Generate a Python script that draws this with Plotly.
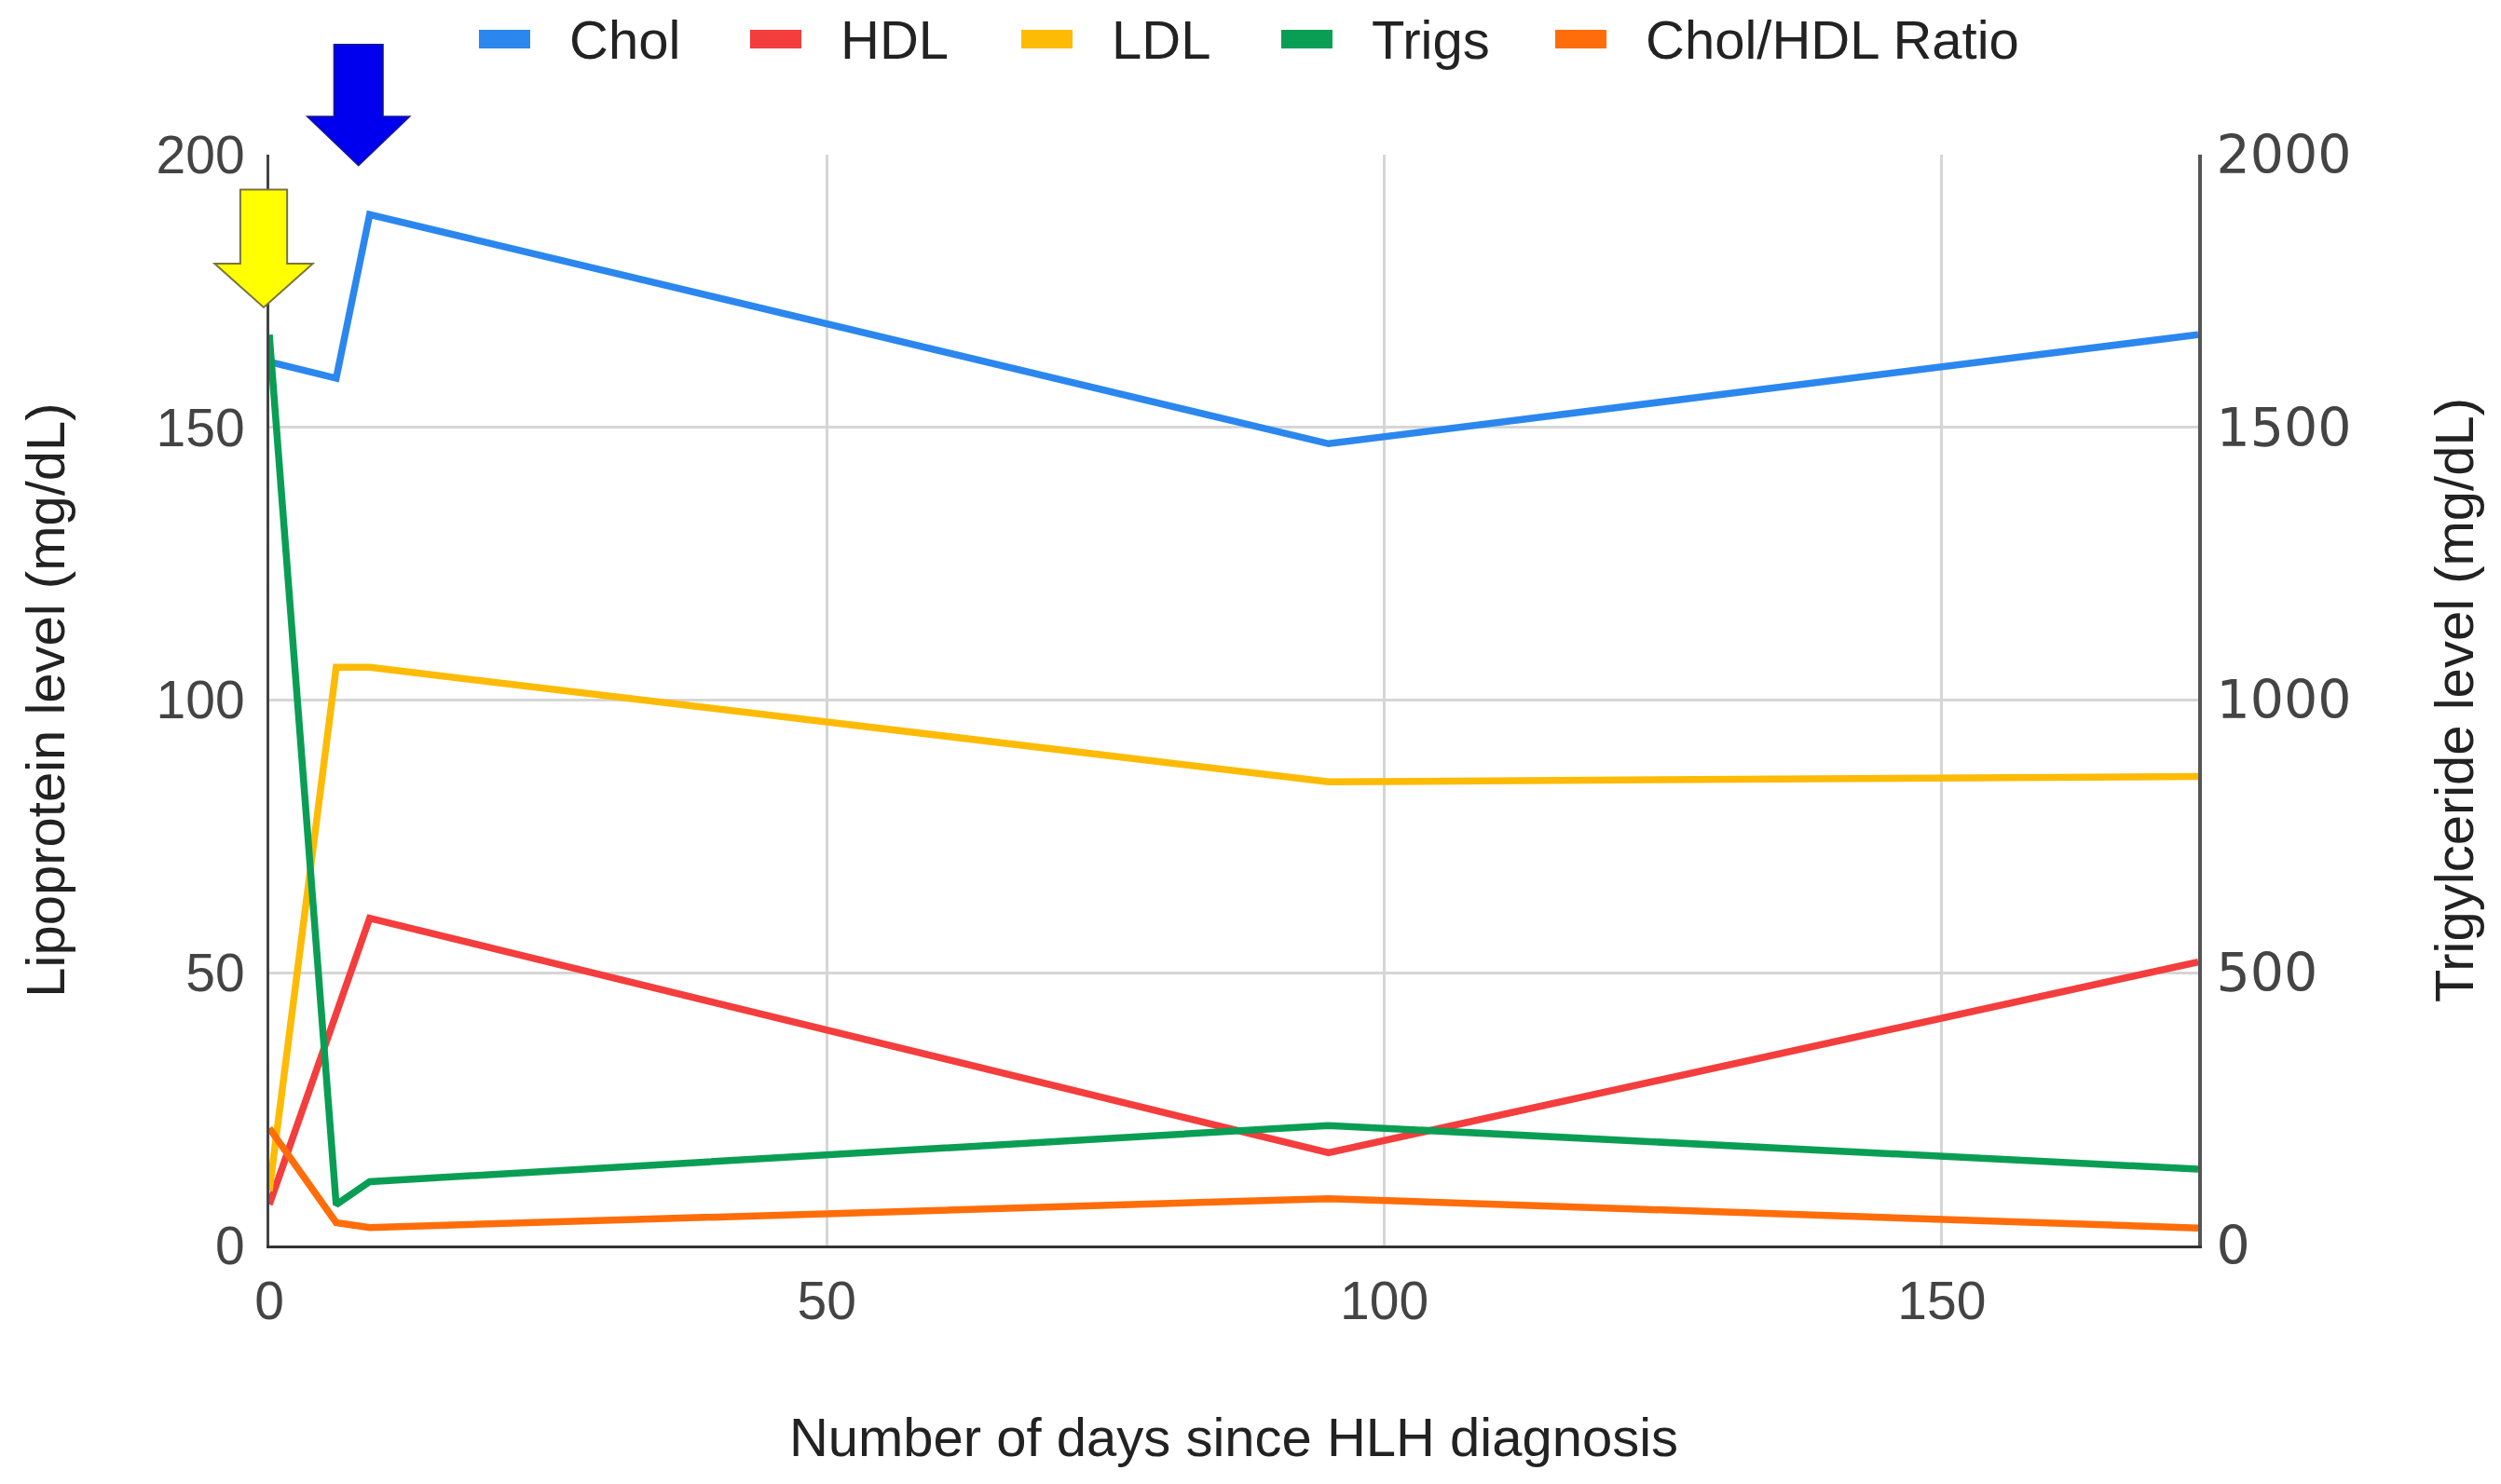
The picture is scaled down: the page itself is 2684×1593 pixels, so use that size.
import plotly.graph_objects as go

# ---- data ----
days = [0, 6, 9, 95, 173]
chol = [162, 159, 189, 147, 167]
hdl = [7.5, 42, 60, 17, 52]
ldl = [10, 106, 106, 85, 86]
trigs = [1670, 75, 117, 220, 140]
ratio = [21.5, 4.2, 3.3, 8.6, 3.2]

series_names = ["Chol", "HDL", "LDL", "Trigs", "Chol/HDL Ratio"]
series_colors = ["#2b87ee", "#f43d3d", "#fdbb06", "#0a9e55", "#ff6d0a"]

x_ticks = [0, 50, 100, 150]
y_ticks = [0, 50, 100, 150, 200]
y2_ticks = [0, 500, 1000, 1500, 2000]
x_range = [0, 173]

x_title = "Number of days since HLH diagnosis"
y_title = "Lipoprotein level (mg/dL)"
y2_title = "Trigylceride level (mg/dL)"

FONT = "Liberation Sans, Arial, sans-serif"
FONT_R = "DejaVu Sans, Verdana, sans-serif"
W, H = 2684, 1593
ML, MR, MT, MB = 289, 325, 166, 256
PW, PH = W - ML - MR, H - MT - MB

fig = go.Figure()
values = [chol, hdl, ldl, trigs, ratio]
for name, vals, col in zip(series_names, values, series_colors):
    fig.add_trace(go.Scatter(
        x=days, y=vals, name=name, mode="lines",
        line=dict(color=col, width=7.5),
        yaxis="y2" if name == "Trigs" else "y",
        showlegend=False,
    ))

# ---- manual legend (Google-style rectangular swatches) ----
legend_x = [514, 805, 1096, 1375, 1669]   # px, swatch left edges
legend_y = 42                             # px from top
shapes = []
annotations = []
for name, col, lx in zip(series_names, series_colors, legend_x):
    shapes.append(dict(type="rect", xref="paper", yref="paper",
                       x0=(lx - ML) / PW, x1=(lx + 55 - ML) / PW,
                       y0=(H - MB - legend_y + 10) / PH, y1=(H - MB - legend_y - 10) / PH,
                       fillcolor=col, line=dict(width=0)))
    annotations.append(dict(text=name, xref="paper", yref="paper",
                            x=(lx + 95 - ML) / PW, y=(H - MB - legend_y) / PH,
                            xanchor="left", yanchor="middle", showarrow=False,
                            font=dict(family=FONT, size=58, color="#222")))

# ---- block arrows (x given in days, converted to paper) ----
def px(d):
    return (d - x_range[0]) / (x_range[1] - x_range[0])

def arrow_path(cx, hb, hh, ytop, yhead, ytip):
    return (f"M {px(cx-hb)},{ytop} L {px(cx+hb)},{ytop} L {px(cx+hb)},{yhead} L {px(cx+hh)},{yhead} "
            f"L {px(cx)},{ytip} L {px(cx-hh)},{yhead} L {px(cx-hb)},{yhead} Z")

shapes.append(dict(type="path", xref="paper", yref="paper",
                   path=arrow_path(-0.5, 2.1, 4.4, 0.968, 0.9, 0.86),
                   fillcolor="#ffff00", line=dict(color="#7a7440", width=2), layer="above"))
shapes.append(dict(type="path", xref="paper", yref="paper",
                   path=arrow_path(8.0, 2.2, 4.6, 1.101, 1.035, 0.99),
                   fillcolor="#0000ee", line=dict(color="#1a1a8a", width=1.5), layer="above"))

tickfont = dict(family=FONT, size=57, color="#444")
tickfont_r = dict(family=FONT_R, size=57, color="#444")
titlefont = dict(family=FONT, size=58, color="#222")

fig.update_layout(
    width=W, height=H,
    margin=dict(l=ML, r=MR, t=MT, b=MB),
    paper_bgcolor="white", plot_bgcolor="white",
    showlegend=False,
    xaxis=dict(range=x_range, tickvals=x_ticks, ticktext=[str(v) for v in x_ticks],
               showgrid=True, gridcolor="#d6d6d6", gridwidth=2.5, zeroline=False,
               showline=True, linecolor="#333", linewidth=3, ticks="",
               tickfont=tickfont, ticklabelstandoff=8,
               title=dict(text=x_title, font=titlefont, standoff=95)),
    yaxis=dict(range=[0, 200], tickvals=y_ticks, ticktext=[str(v) for v in y_ticks],
               showgrid=True, gridcolor="#d6d6d6", gridwidth=2.5, zeroline=False,
               showline=True, linecolor="#444", linewidth=3, ticks="",
               tickfont=tickfont, ticklabelstandoff=12,
               title=dict(text=y_title, font=titlefont, standoff=80)),
    yaxis2=dict(range=[0, 2000], tickvals=y2_ticks, ticktext=[str(v) for v in y2_ticks],
                overlaying="y", side="right", showgrid=False, zeroline=False,
                showline=True, linecolor="#555", linewidth=4, ticks="",
                tickfont=tickfont_r, ticklabelstandoff=4,
                title=dict(text=y2_title, font=titlefont, standoff=92)),
    shapes=shapes,
    annotations=annotations,
)

fig.write_html("out.html", config={"displayModeBar": False},
               post_script="document.body.style.margin='0';")
